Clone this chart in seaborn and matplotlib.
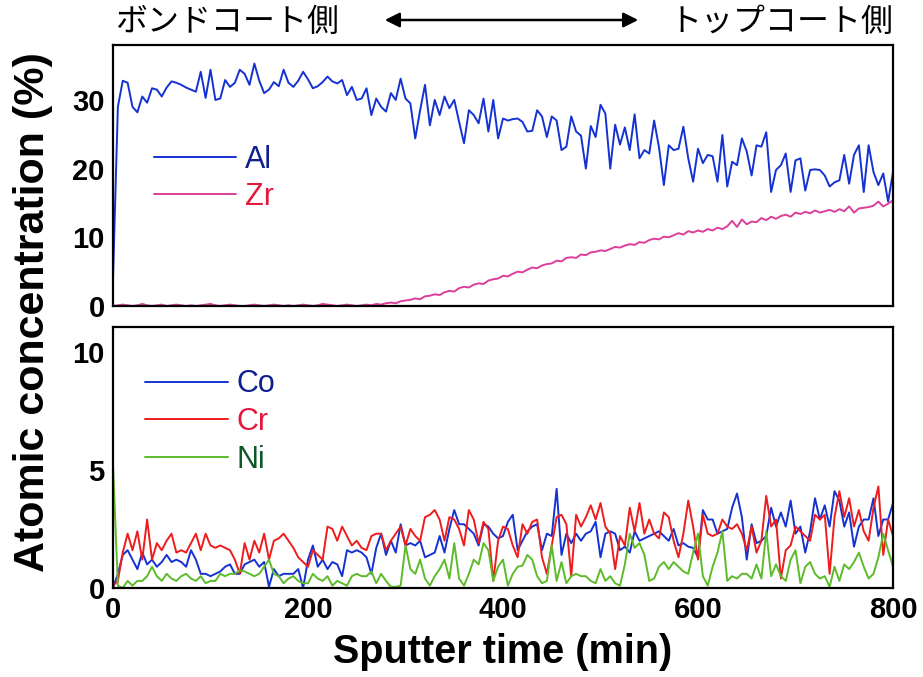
import numpy as np
import pandas as pd
import matplotlib
matplotlib.use("Agg")
import matplotlib.pyplot as plt
from matplotlib.ticker import MultipleLocator
import seaborn as sns

# Sputter time axis (min), one sample every 5 min
time_min = list(range(0, 805, 5))

# Upper panel: Al and Zr (%)
al = [4.0, 29.0, 32.8, 32.5, 29.0, 28.2, 30.5, 29.6, 31.7, 31.5,
      30.5, 31.8, 32.7, 32.5, 32.2, 31.8, 31.5, 31.2, 34.1, 30.3,
      34.4, 30.0, 30.2, 32.9, 31.9, 32.5, 34.4, 33.8, 32.2, 35.3,
      32.8, 31.0, 31.5, 32.6, 32.0, 34.4, 32.5, 31.9, 32.8, 34.1,
      33.0, 31.7, 32.0, 32.6, 33.4, 32.7, 32.4, 32.9, 30.7, 31.9,
      30.0, 30.2, 31.7, 27.8, 30.2, 29.0, 28.3, 31.0, 30.0, 33.1,
      30.2, 29.5, 24.4, 28.5, 32.2, 26.3, 30.0, 27.8, 30.5, 28.8,
      30.0, 26.8, 23.7, 28.5, 27.8, 26.6, 30.2, 25.4, 30.0, 24.4,
      27.3, 27.0, 27.2, 27.3, 26.8, 25.4, 25.5, 28.5, 27.6, 24.6,
      27.6, 27.0, 22.7, 23.2, 27.6, 25.4, 24.8, 20.0, 26.2, 24.6,
      29.3, 28.0, 20.0, 26.4, 23.5, 26.0, 22.7, 27.9, 21.5, 22.7,
      22.2, 27.0, 23.1, 17.6, 23.4, 22.7, 22.9, 26.1, 21.5, 18.1,
      22.9, 20.8, 22.0, 21.8, 18.1, 24.9, 17.4, 21.0, 20.5, 24.4,
      22.5, 19.0, 23.4, 23.2, 25.3, 16.6, 19.8, 20.5, 22.2, 16.6,
      21.2, 21.5, 16.8, 19.8, 19.9, 19.8, 19.0, 17.4, 18.0, 18.3,
      22.0, 17.8, 22.0, 23.4, 16.6, 23.4, 19.5, 17.6, 19.3, 15.2,
      19.5]
zr = [0.0, 0.1, 0.2, 0.1, 0.0, 0.1, 0.3, 0.1, 0.0, 0.1,
      0.2, 0.0, 0.1, 0.2, 0.1, 0.0, 0.1, 0.0, 0.1, 0.2,
      0.3, 0.1, 0.0, 0.1, 0.2, 0.1, 0.0, 0.0, 0.1, 0.2,
      0.1, 0.0, 0.1, 0.2, 0.1, 0.0, 0.1, 0.0, 0.1, 0.2,
      0.1, 0.0, 0.1, 0.3, 0.2, 0.1, 0.0, 0.1, 0.2, 0.1,
      0.0, 0.1, 0.2, 0.1, 0.3, 0.2, 0.4, 0.5, 0.4, 0.7, 0.8,
      0.9, 1.1, 1.0, 1.4, 1.5, 1.7, 1.6, 2.0, 2.2, 2.1,
      2.6, 2.8, 2.7, 3.1, 3.3, 3.2, 3.7, 3.9, 4.0, 4.4,
      4.3, 4.7, 5.0, 4.9, 5.3, 5.6, 5.5, 5.9, 6.1, 6.2,
      6.6, 6.5, 7.0, 7.1, 7.0, 7.5, 7.4, 7.8, 7.9, 8.1,
      8.0, 8.3, 8.6, 8.5, 8.8, 9.0, 8.9, 9.3, 9.2, 9.6,
      9.8, 9.7, 10.1, 10.0, 10.3, 10.6, 10.4, 10.9, 10.7, 11.0,
      10.8, 11.2, 11.0, 11.4, 11.2, 11.6, 12.4, 11.5, 12.6, 11.9,
      12.3, 12.2, 12.8, 12.5, 13.0, 12.7, 13.1, 13.3, 13.0, 13.6,
      13.4, 13.7, 13.5, 13.9, 13.6, 13.8, 14.0, 13.7, 14.1, 13.8,
      14.5, 13.6, 14.2, 14.3, 14.4, 14.6, 15.2, 14.5, 14.9, 15.4]

# Lower panel: Co, Cr and Ni (%)
co = [0.0, 0.6, 1.4, 1.6, 1.2, 0.8, 1.5, 1.0, 1.2, 0.9,
      1.1, 1.4, 1.1, 1.2, 1.1, 0.9, 1.6, 1.2, 0.6, 0.6,
      0.5, 0.6, 0.7, 0.9, 1.0, 0.6, 0.6, 1.0, 1.1, 1.2,
      0.9, 1.1, 0.05, 0.8, 0.5, 0.6, 0.6, 0.6, 0.8, 0.0,
      1.2, 1.8, 0.9, 1.2, 0.8, 1.1, 1.0, 0.5, 1.6, 1.5,
      1.6, 1.5, 1.3, 0.6, 1.7, 2.3, 1.4, 2.0, 1.5, 2.7,
      1.8, 1.9, 1.8, 2.0, 1.3, 1.4, 1.5, 2.2, 1.5, 2.5,
      3.3, 2.7, 2.7, 2.5, 2.3, 1.8, 2.7, 2.6, 2.3, 2.1,
      2.2, 2.8, 3.1, 1.6, 2.0, 2.4, 2.6, 2.7, 1.6, 2.3,
      2.2, 4.2, 1.4, 2.3, 1.9, 2.3, 2.0, 2.3, 2.4, 2.8,
      1.3, 2.3, 2.4, 2.3, 1.6, 1.75, 1.5, 2.4, 2.0, 2.1,
      2.2, 2.3, 2.4, 2.2, 2.0, 2.5, 1.8, 1.9, 1.75, 1.7,
      1.3, 3.3, 2.9, 2.9, 2.3, 2.4, 2.5, 3.4, 4.0, 3.0,
      1.2, 2.7, 1.9, 2.0, 2.2, 3.4, 2.6, 3.2, 2.6, 3.7,
      2.3, 2.6, 1.5, 2.4, 3.8, 2.9, 3.5, 2.6, 4.1, 3.7,
      2.6, 3.2, 1.75, 2.6, 2.9, 2.9, 3.8, 2.2, 2.9, 2.9,
      3.6]
cr = [0.1, 0.3, 1.5, 2.3, 1.6, 2.4, 1.2, 2.9, 1.2, 1.9,
      1.6, 2.0, 2.3, 1.5, 1.6, 1.5, 1.9, 2.3, 1.6, 2.3,
      1.8, 1.7, 1.8, 1.7, 1.6, 1.2, 0.6, 1.9, 1.2, 2.0,
      1.5, 2.3, 1.2, 2.0, 2.1, 2.3, 2.0, 1.7, 1.3, 1.1,
      0.9, 1.6, 1.4, 1.2, 2.6, 2.5, 2.0, 2.6, 2.2, 1.8,
      2.0, 1.7, 1.6, 2.2, 2.3, 2.3, 1.6, 2.0, 2.3, 2.6,
      1.8, 2.5, 2.2, 2.0, 3.0, 3.1, 3.3, 2.9, 2.0, 3.0,
      2.9, 2.5, 1.8, 3.3, 2.9, 1.9, 2.8, 2.5, 0.3, 2.0,
      2.6, 2.5, 1.8, 1.3, 2.7, 2.3, 2.8, 2.9, 1.3, 0.6,
      1.8, 3.0, 3.1, 2.7, 0.5, 3.1, 2.6, 3.0, 3.5, 2.9,
      3.6, 2.6, 2.3, 0.8, 2.2, 1.8, 3.4, 2.4, 3.6, 2.3,
      2.9, 2.3, 2.1, 3.2, 3.0, 2.0, 1.3, 2.3, 3.7, 2.6,
      1.2, 3.1, 2.3, 2.2, 2.3, 2.9, 2.6, 2.5, 2.7, 2.3,
      1.6, 2.6, 1.5, 2.0, 3.9, 2.6, 2.9, 0.4, 1.6, 1.8,
      2.6, 2.4, 2.2, 2.0, 3.1, 2.9, 3.1, 0.6, 3.0, 4.1,
      3.0, 3.8, 2.6, 3.3, 2.4, 2.0, 3.4, 4.3, 1.4, 2.9,
      2.2]
ni = [5.2, 0.1, 0.0, 0.3, 0.1, 0.3, 0.3, 0.5, 0.9, 0.5,
      0.3, 0.6, 0.4, 0.3, 0.5, 0.6, 0.4, 0.3, 0.5, 0.2,
      0.3, 0.3, 0.6, 0.5, 0.6, 0.6, 0.75, 0.7, 0.6, 0.5,
      0.6, 0.9, 1.2, 0.6, 0.5, 0.2, 0.4, 0.5, 0.3, 0.2,
      0.2, 0.6, 0.4, 0.3, 0.5, 0.1, 0.3, 0.2, 0.1, 0.5,
      0.6, 0.5, 0.5, 0.7, 0.2, 0.6, 0.3, 0.05, 0.05, 0.1,
      1.8, 0.8, 0.6, 1.2, 0.4, 0.1, 0.5, 0.8, 1.2, 0.4,
      1.9, 0.4, 0.1, 0.6, 1.2, 1.0, 1.9, 1.6, 0.3, 0.9,
      1.2, 0.1, 0.6, 0.9, 0.95, 1.4, 1.2, 0.5, 0.2, 0.3,
      1.8, 0.3, 1.1, 0.2, 0.5, 0.6, 0.5, 0.5, 0.3, 0.2,
      0.8, 0.3, 0.5, 0.2, 0.1, 1.0, 2.3, 1.7, 1.9, 1.4,
      0.3, 0.4, 0.9, 1.1, 0.8, 1.1, 0.9, 0.7, 0.6, 1.5,
      2.3, 0.5, 0.1, 0.9, 1.5, 2.4, 0.3, 0.5, 0.4, 0.6,
      0.6, 0.4, 1.0, 0.4, 2.4, 0.5, 1.0, 0.5, 0.3, 1.2,
      1.6, 0.2, 0.9, 1.1, 0.6, 0.4, 0.5, 0.05, 0.9, 0.3,
      1.0, 0.8, 1.1, 1.5, 0.9, 0.4, 0.6, 1.3, 2.3, 1.6,
      0.9]

top_labels = ["Al", "Zr"]
bottom_labels = ["Co", "Cr", "Ni"]
line_colors = {"Al": "#1432d2", "Zr": "#dc3f9a",
               "Co": "#1432d2", "Cr": "#ee1c1c", "Ni": "#5dbb2a"}
text_colors = {"Al": "#0f1f8c", "Zr": "#e3183c",
               "Co": "#0f1f8c", "Cr": "#e3183c", "Ni": "#0d5a26"}

top_df = pd.DataFrame({"time": time_min * 2,
                       "conc": al + zr,
                       "element": ["Al"] * len(al) + ["Zr"] * len(zr)})
bottom_df = pd.DataFrame({"time": time_min * 3,
                          "conc": co + cr + ni,
                          "element": ["Co"] * len(co) + ["Cr"] * len(cr) + ["Ni"] * len(ni)})

sns.set_style("white")
plt.rcParams["font.family"] = ["Liberation Sans", "Noto Sans CJK JP", "DejaVu Sans"]
plt.rcParams["text.color"] = "black"
plt.rcParams["xtick.color"] = "black"
plt.rcParams["ytick.color"] = "black"

W, H = 923, 677
fig = plt.figure(figsize=(W / 100, H / 100), dpi=100)
ax_top = fig.add_axes([113 / W, 1 - 306 / H, 780 / W, 261 / H])
ax_bot = fig.add_axes([113 / W, 1 - 588 / H, 780 / W, 261 / H])

sns.lineplot(data=top_df, x="time", y="conc", hue="element", hue_order=top_labels,
             palette=line_colors, linewidth=1.4, ax=ax_top, legend=False)
sns.lineplot(data=bottom_df, x="time", y="conc", hue="element", hue_order=bottom_labels,
             palette=line_colors, linewidth=1.4, ax=ax_bot, legend=False)

ax_top.set_ylim(0, 38)
ax_bot.set_ylim(0, 11.05)
for ax in (ax_top, ax_bot):
    ax.set_xlim(0, 800)
    ax.xaxis.set_major_locator(MultipleLocator(200))
    ax.xaxis.set_minor_locator(MultipleLocator(100))
    ax.tick_params(which="both", direction="in", top=False, right=False,
                   width=1.6, labelsize=21, pad=6, colors="black")
    ax.tick_params(which="major", length=8)
    ax.tick_params(which="minor", length=8)
    ax.set_xlabel("")
    ax.set_ylabel("")
    for s in ax.spines.values():
        s.set_linewidth(1.6)
        s.set_color("black")

ax_top.yaxis.set_major_locator(MultipleLocator(10))
ax_top.yaxis.set_minor_locator(MultipleLocator(5))
ax_top.tick_params(axis="x", labelbottom=False)
ax_bot.yaxis.set_major_locator(MultipleLocator(5))
ax_bot.yaxis.set_minor_locator(MultipleLocator(2.5))
for ax in (ax_top, ax_bot):
    for lbl in ax.get_xticklabels() + ax.get_yticklabels():
        lbl.set_fontweight("bold")

# In-panel legends with coloured labels
for ax, labels, anchor in ((ax_top, top_labels, (0.017, 0.724)),
                           (ax_bot, bottom_labels, (0.006, 0.943))):
    handles = [plt.Line2D([], [], color=line_colors[n], linewidth=1.4) for n in labels]
    leg = ax.legend(handles, labels, loc="upper left", bbox_to_anchor=anchor,
                    frameon=False, handlelength=2.7, handletextpad=0.3,
                    labelspacing=0.25, fontsize=22)
    for txt, n in zip(leg.get_texts(), labels):
        txt.set_color(text_colors[n])

fig.text(33 / W, 1 - 312 / H, "Atomic concentration (%)", rotation=90,
         ha="center", va="center", fontsize=31, fontweight="bold")
fig.text(503 / W, 1 - 652 / H, "Sputter time (min)", ha="center", va="center",
         fontsize=28.5, fontweight="bold")

# Depth direction header
fig.text(115 / W, 1 - 22 / H, "ボンドコート側", ha="left", va="center",
         fontsize=23, family=["Noto Sans CJK JP"])
fig.text(893 / W, 1 - 22 / H, "トップコート側", ha="right", va="center",
         fontsize=23, family=["Noto Sans CJK JP"])
fig.patches.append(matplotlib.patches.FancyArrowPatch(
    (382 / W, 1 - 20 / H), (641 / W, 1 - 20 / H), transform=fig.transFigure,
    arrowstyle="<|-|>", mutation_scale=22, linewidth=1.8, color="black"))

fig.savefig("out.png", dpi=100)
